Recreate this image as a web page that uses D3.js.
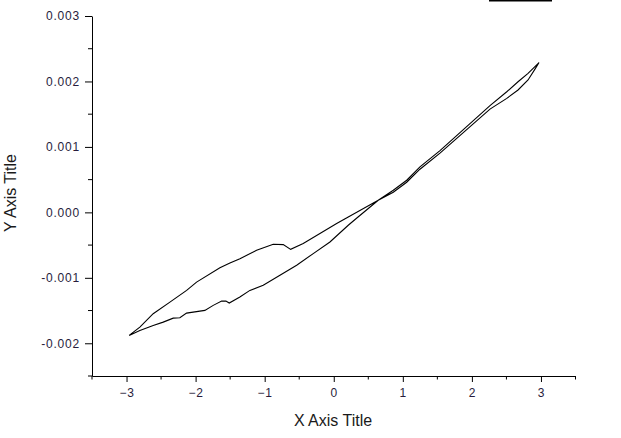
<!DOCTYPE html>
<html><head><meta charset="utf-8">
<script src="https://cdn.jsdelivr.net/npm/d3@7/dist/d3.min.js"></script>
<style>body{margin:0;background:#fff}svg{display:block}</style>
</head><body>
<script>
// Data
const xTicks = [-3, -2, -1, 0, 1, 2, 3];
const yTicks = [-0.002, -0.001, 0.000, 0.001, 0.002, 0.003];
const yTickLabels = ["-0.002", "-0.001", "0.000", "0.001", "0.002", "0.003"];
// closed loop: left tip -> upper-left branch -> crossing -> right lower -> right tip -> right upper -> crossing -> lower-left -> left tip
const loopX = [
  -2.962, -2.807, -2.614, -2.372, -2.130, -1.986, -1.648, -1.503, -1.358, -1.117, -0.876, -0.731, -0.624, -0.442, -0.200, 0.042, 0.210, 0.644,
  0.862, 1.056, 1.248, 1.538, 1.900, 2.262, 2.505, 2.668, 2.813, 2.920, 2.972,
  2.813, 2.668, 2.505, 2.262, 1.900, 1.538, 1.248, 1.056, 0.862, 0.644,
  0.330, 0.210, -0.055, -0.297, -0.537, -0.779, -1.021, -1.214, -1.359, -1.513, -1.561, -1.623, -1.745, -1.866, -1.938, -2.131, -2.228, -2.324, -2.469, -2.614, -2.807, -2.962
];
const loopY = [
  -0.001880, -0.001753, -0.001548, -0.001371, -0.001192, -0.001065, -0.000845, -0.000774, -0.000707, -0.000580, -0.000488, -0.000493, -0.000565, -0.000477, -0.000324, -0.000171, -0.000070, 0.000185,
  0.000307, 0.000460, 0.000659, 0.000904, 0.001241, 0.001578, 0.001742, 0.001870, 0.002022, 0.002200, 0.002289,
  0.002124, 0.001996, 0.001843, 0.001631, 0.001287, 0.000944, 0.000695, 0.000491, 0.000338, 0.000185,
  -0.000090, -0.000197, -0.000453, -0.000630, -0.000809, -0.000962, -0.001115, -0.001192, -0.001294, -0.001386, -0.001356, -0.001356, -0.001421, -0.001498, -0.001509, -0.001539, -0.001610, -0.001616, -0.001677, -0.001727, -0.001804, -0.001880
];

const W = 621, H = 438;
const svg = d3.select("body").append("svg").attr("width", W).attr("height", H);

const x = d3.scaleLinear().domain([-3.5, 3.5]).range([92, 575.5]);
const y = d3.scaleLinear().domain([-0.0025, 0.003]).range([376, 16]);

const font = "Arial, 'Liberation Sans', sans-serif";
const labelColor = "#281c3c";

// minor ticks
const xMinor = d3.range(-3.5, 3.51, 0.5).filter(v => Math.abs(v - Math.round(v)) > 0.1);
const yMinor = d3.range(-0.0025, 0.00301, 0.0005).filter(v => Math.abs(v*1000 - Math.round(v*1000)) > 0.1);

const gx = svg.append("g").attr("transform", `translate(0,${y(-0.0025)})`);
gx.call(d3.axisBottom(x).tickValues(xTicks).tickFormat(d3.format("d")).tickSizeInner(6).tickSizeOuter(0).tickPadding(6));
gx.append("g").selectAll("line").data(xMinor).join("line")
  .attr("x1", d => x(d)).attr("x2", d => x(d)).attr("y1", 0).attr("y2", 3.5).attr("stroke", "#000");

const gy = svg.append("g").attr("transform", `translate(${x(-3.5)},0)`);
gy.call(d3.axisLeft(y).tickValues(yTicks).tickFormat((d, i) => yTickLabels[i]).tickSizeInner(7).tickSizeOuter(0).tickPadding(5));
gy.append("g").selectAll("line").data(yMinor).join("line")
  .attr("y1", d => y(d)).attr("y2", d => y(d)).attr("x1", 0).attr("x2", -4).attr("stroke", "#000");

svg.selectAll(".tick text").attr("font-family", font).attr("font-size", 12)
  .attr("letter-spacing", "0.8px").attr("fill", labelColor);
svg.selectAll(".domain").attr("stroke", "#000");
svg.selectAll(".tick line").attr("stroke", "#000");

// loop curve
const pts = loopX.map((v, i) => [v, loopY[i]]);
svg.append("path").datum(pts)
  .attr("d", d3.line().x(d => x(d[0])).y(d => y(d[1])))
  .attr("fill", "none").attr("stroke", "#000").attr("stroke-width", 1.1);

// axis titles
svg.append("text").attr("x", 333).attr("y", 426).attr("text-anchor", "middle")
  .attr("font-family", font).attr("font-size", 16).attr("fill", "#1a1a1a").text("X Axis Title");
svg.append("text").attr("transform", "translate(15.5,193) rotate(-90)").attr("text-anchor", "middle")
  .attr("font-family", font).attr("font-size", 16).attr("fill", "#1a1a1a").text("Y Axis Title");

// legend stub line at top
svg.append("rect").attr("x", 489).attr("y", 0).attr("width", 63).attr("height", 1.5).attr("fill", "#000");
</script>
</body></html>
